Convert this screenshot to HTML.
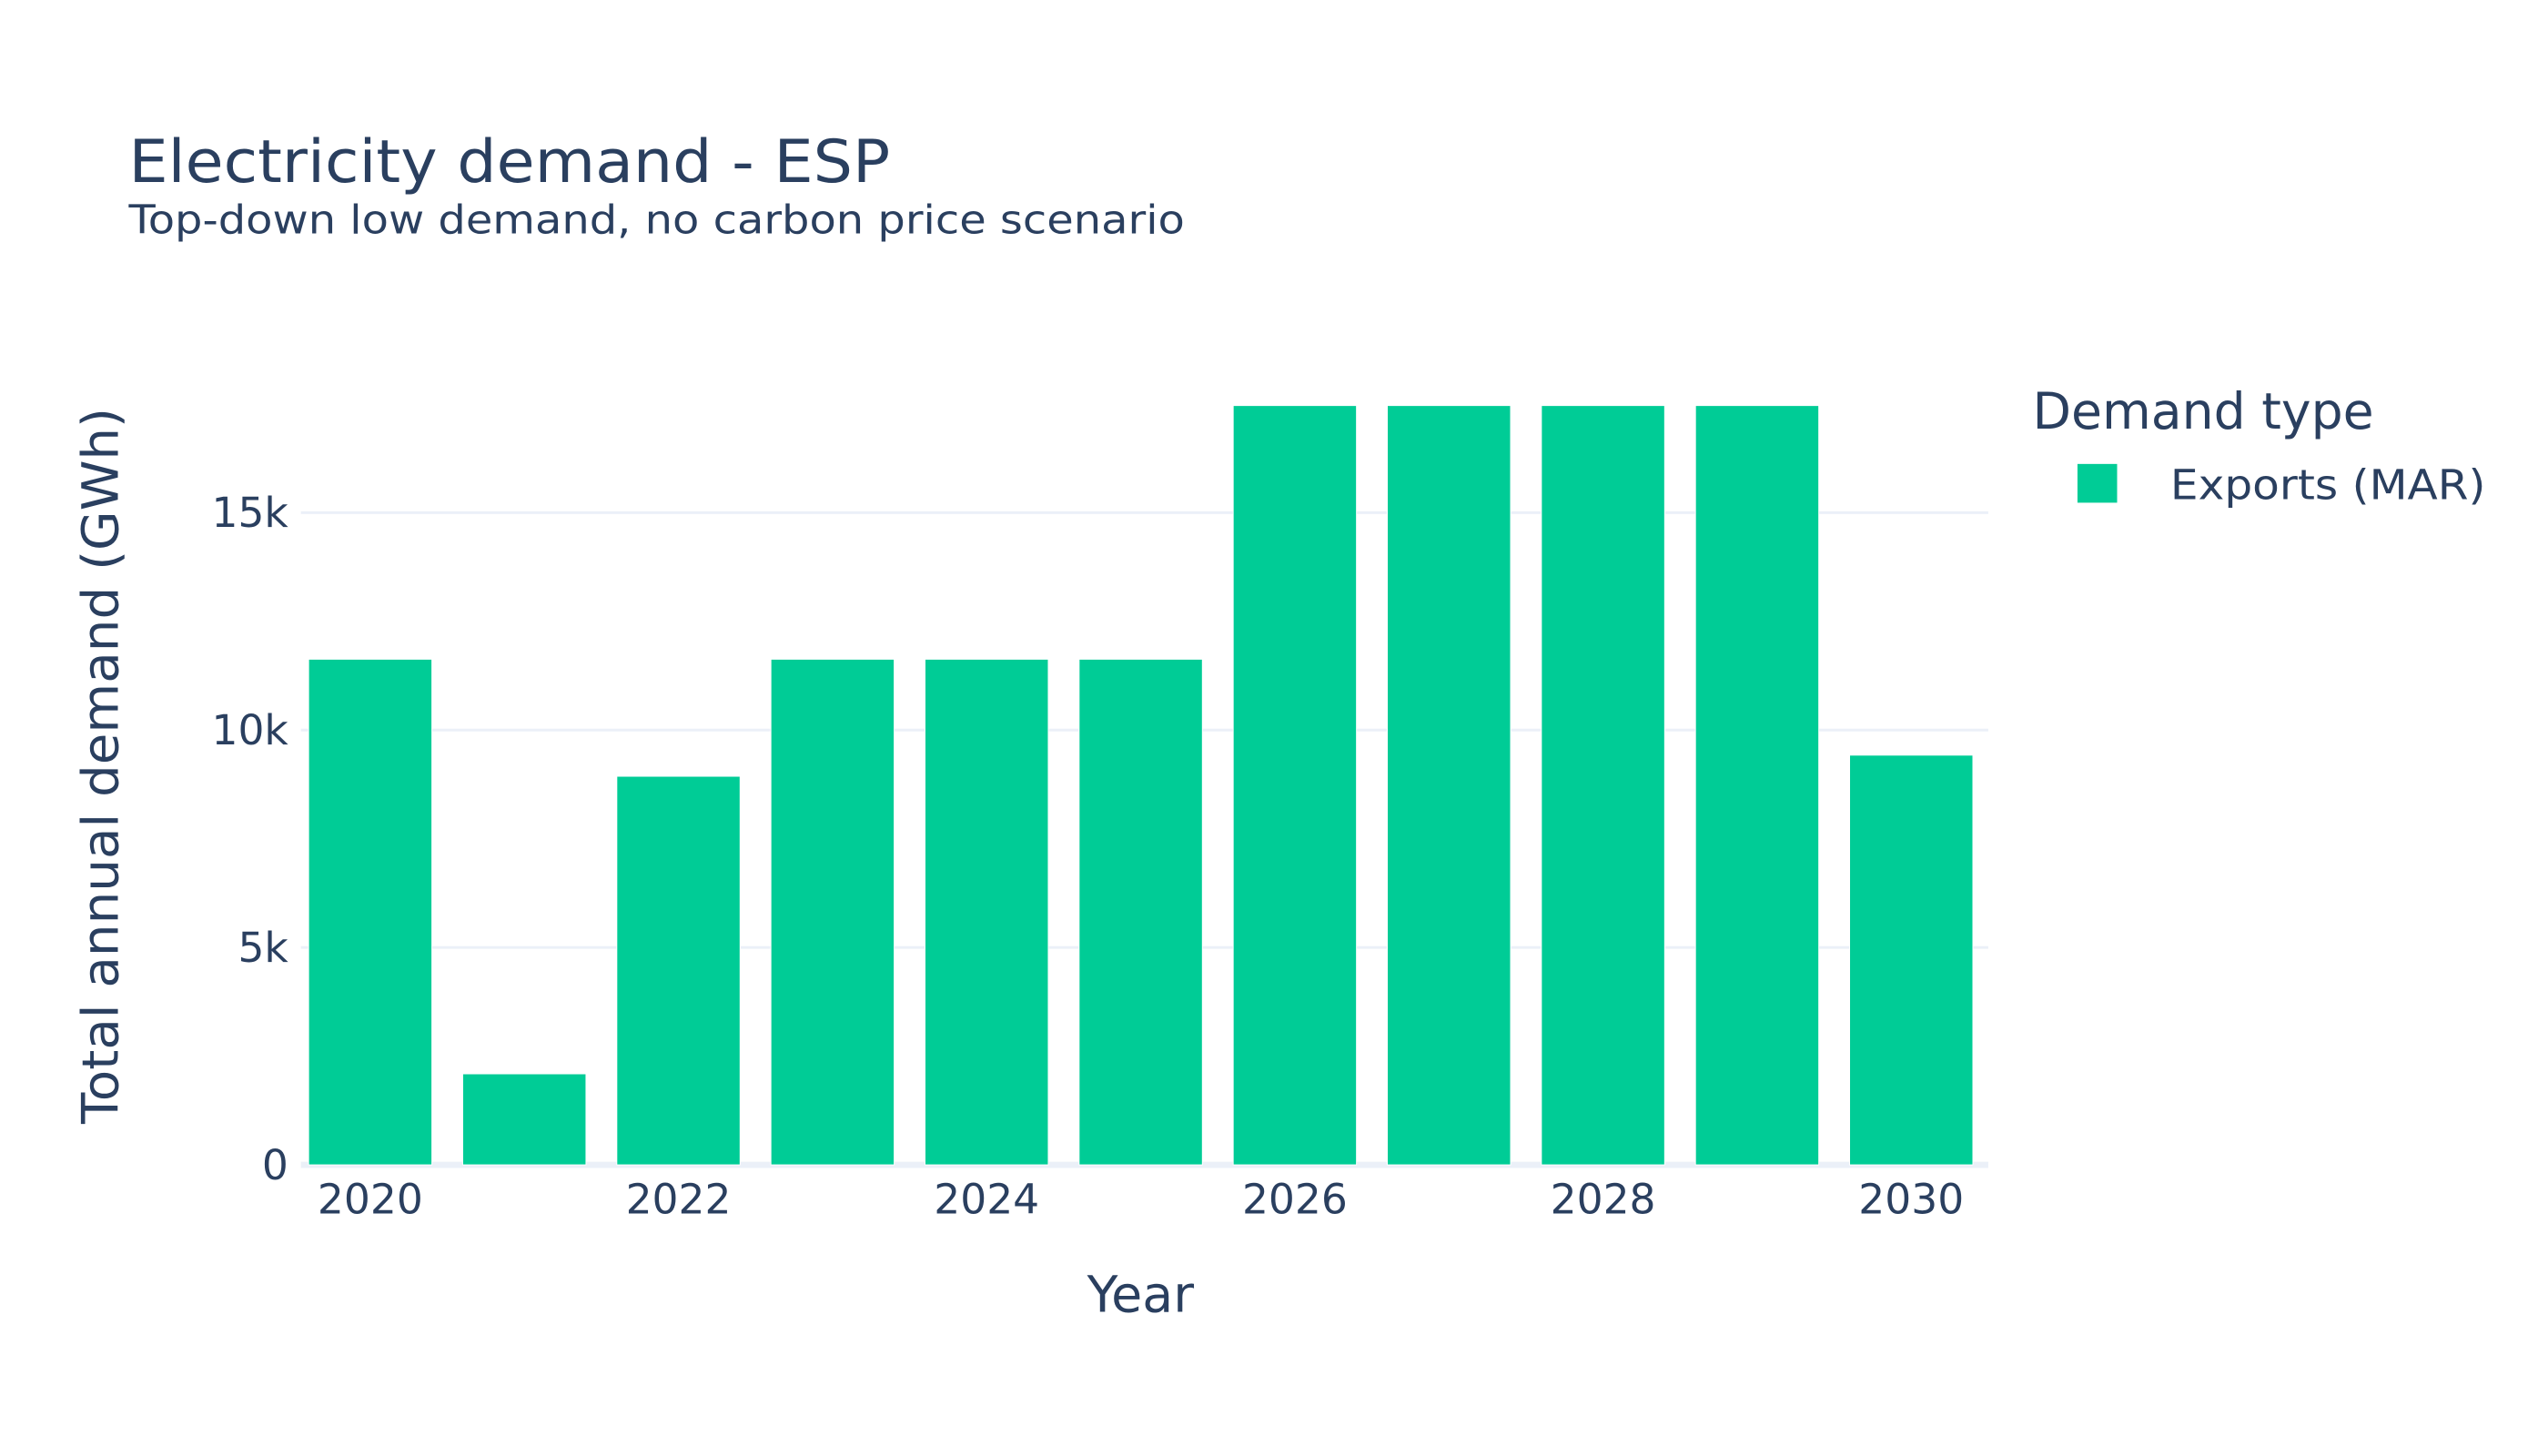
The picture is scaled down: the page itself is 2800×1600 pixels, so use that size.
<!DOCTYPE html>
<html><head><meta charset="utf-8"><style>
html,body{margin:0;padding:0;background:#fff;}
svg{display:block;}
text{font-family:"DejaVu Sans","Liberation Sans",sans-serif;fill:#2a3f5f;}
</style></head><body>
<svg id="chart" width="2800" height="1600" viewBox="0 0 2800 1600" xmlns="http://www.w3.org/2000/svg">
<rect width="2800" height="1600" fill="#fff"/>
<g transform="scale(0.99)">
<text x="143" y="202" font-size="66" textLength="845" lengthAdjust="spacingAndGlyphs">Electricity demand - ESP</text>
<text x="143" y="259" font-size="44" textLength="1172" lengthAdjust="spacingAndGlyphs">Top-down low demand, no carbon price scenario</text>
<g id="grid"></g>
<g id="bars"></g>
<g id="yticks"></g>
<g id="xticks"></g>
<text x="1266" y="1456" font-size="56" text-anchor="middle">Year</text>
<text transform="translate(131,850) rotate(-90)" font-size="56" text-anchor="middle" textLength="795" lengthAdjust="spacingAndGlyphs">Total annual demand (GWh)</text>
<g>
<text x="2256" y="476" font-size="56" textLength="379" lengthAdjust="spacingAndGlyphs">Demand type</text>
<g>
<rect x="2306" y="515" width="44" height="43" fill="#00cc96"/>
<text x="2409" y="554" font-size="46" textLength="350" lengthAdjust="spacingAndGlyphs">Exports (MAR)</text>
</g></g>
</g>
</svg>
<script>
const categories = [2020,2021,2022,2023,2024,2025,2026,2027,2028,2029,2030];
const values = [11630,2094,8938,11630,11630,11630,17465,17465,17465,17465,9424];
const yTicks = [0,5000,10000,15000];
const yTickLabels = ["0","5k","10k","15k"];
const xTicks = [2020,2022,2024,2026,2028,2030];
const xTickLabels = ["2020","2022","2024","2026","2028","2030"];

const NS="http://www.w3.org/2000/svg";
const L=334,R=2207,T=408,B=1293;
const xMin=2019.55,xMax=2030.5,yMax=18338;
function xs(v){return L+(v-xMin)/(xMax-xMin)*(R-L);}
function ys(v){return B-v/yMax*(B-T);}
function mk(tag,attrs,parent){const e=document.createElementNS(NS,tag);for(const k in attrs)e.setAttribute(k,attrs[k]);parent.appendChild(e);return e;}
const grid=document.getElementById('grid'),bars=document.getElementById('bars'),yt=document.getElementById('yticks'),xt=document.getElementById('xticks');
yTicks.forEach((v,i)=>{
  const ln=mk('line',{x1:L,x2:R,y1:ys(v),y2:ys(v),stroke:'#ebf0f8','stroke-width':v===0?7:3},grid);
  
  
  const t=mk('text',{x:L-14,y:ys(v)+16,'font-size':46,'text-anchor':'end'},yt);
  t.textContent=yTickLabels[i];
  
  
});
const bw=(xs(1)-xs(0))*0.8;
categories.forEach((c,i)=>{
  const r=mk('rect',{x:xs(c)-bw/2,y:ys(values[i]),width:bw,height:B-ys(values[i]),fill:'#00cc96',stroke:'#fff','stroke-width':1},bars);
  
  
});
xTicks.forEach((v,i)=>{
  const t=mk('text',{x:xs(v),y:1347,'font-size':46,'text-anchor':'middle'},xt);
  t.textContent=xTickLabels[i];
  
  
});
</script>
</body></html>
